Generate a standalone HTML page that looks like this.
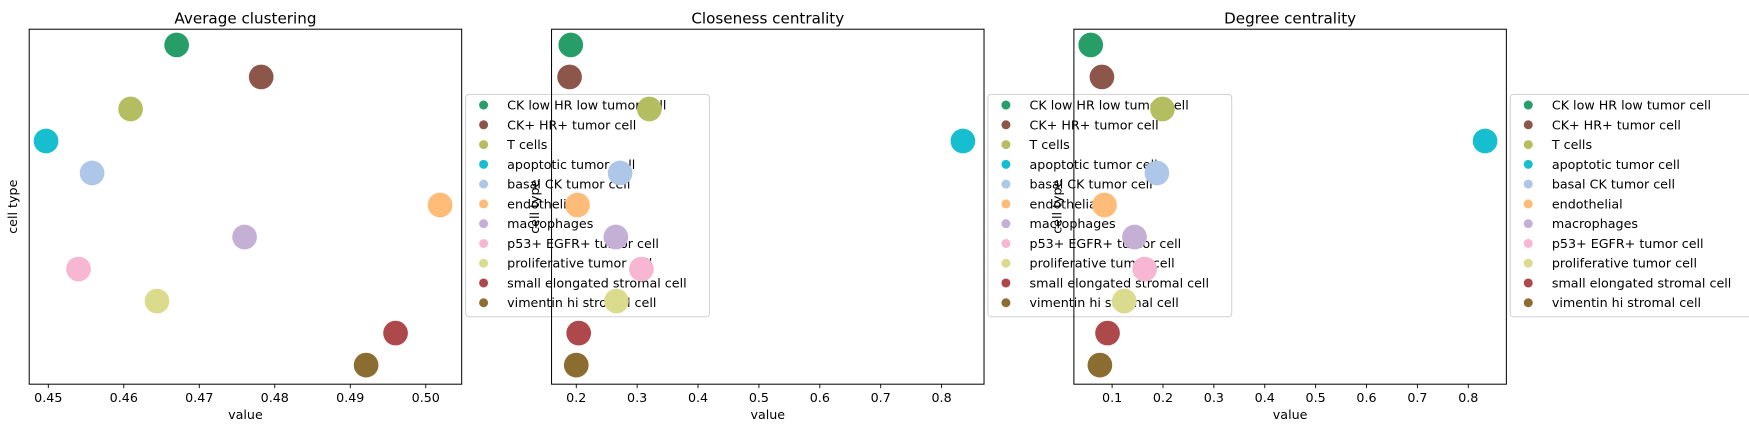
<!DOCTYPE html>
<html><head><meta charset="utf-8">
<style>html,body{margin:0;padding:0;background:#fff;overflow:hidden}svg{display:block}</style>
</head><body>
<svg id="fig" width="1749" height="428" viewBox="0 0 1557 381" preserveAspectRatio="none" xmlns="http://www.w3.org/2000/svg" font-family="'DejaVu Sans','Liberation Sans',sans-serif">
<g id="bg"></g><g id="legends"></g><g id="content"></g>
</svg>
<script>
const categories = ["CK low HR low tumor cell","CK+ HR+ tumor cell","T cells","apoptotic tumor cell","basal CK tumor cell","endothelial","macrophages","p53+ EGFR+ tumor cell","proliferative tumor cell","small elongated stromal cell","vimentin hi stromal cell"];
const colors = ["#279e68","#8c564b","#b5bd61","#17becf","#aec7e8","#ffbb78","#c5b0d5","#f7b6d2","#dbdb8d","#ad494a","#8c6d31"];
const clusteringValues = [0.4670,0.4782,0.4609,0.4497,0.4558,0.5019,0.4760,0.4540,0.4644,0.4960,0.4921];
const closenessValues = [0.191,0.189,0.320,0.835,0.272,0.202,0.265,0.307,0.266,0.204,0.200];
const degreeValues = [0.058,0.080,0.199,0.833,0.188,0.085,0.144,0.164,0.124,0.091,0.076];
const ticks1 = [0.45,0.46,0.47,0.48,0.49,0.50];
const tickLabels1 = ["0.45","0.46","0.47","0.48","0.49","0.50"];
const ticks2 = [0.2,0.3,0.4,0.5,0.6,0.7,0.8];
const tickLabels2 = ["0.2","0.3","0.4","0.5","0.6","0.7","0.8"];
const ticks3 = [0.1,0.2,0.3,0.4,0.5,0.6,0.7,0.8];
const tickLabels3 = ["0.1","0.2","0.3","0.4","0.5","0.6","0.7","0.8"];

const NS="http://www.w3.org/2000/svg";
function mk(parent,tag,attrs,text){const e=document.createElementNS(NS,tag);for(const k in attrs)e.setAttribute(k,attrs[k]);if(text!==undefined)e.textContent=text;parent.appendChild(e);return e;}
const bg=document.getElementById('bg'),lg=document.getElementById('legends'),ct=document.getElementById('content');
const T=26,B=342;
function yPos(i){return 40+i*28.5;}
const panels=[
 {name:"average-clustering",title:"Average clustering",L:26,R:411,d0:0.44747,d1:0.50476,vals:clusteringValues,ticks:ticks1,labels:tickLabels1},
 {name:"closeness-centrality",title:"Closeness centrality",L:491,R:876,d0:0.1594,d1:0.8697,vals:closenessValues,ticks:ticks2,labels:tickLabels2},
 {name:"degree-centrality",title:"Degree centrality",L:956,R:1341,d0:0.0249,d1:0.8748,vals:degreeValues,ticks:ticks3,labels:tickLabels3}
];
panels.forEach(p=>{
 const x=v=>p.L+(v-p.d0)/(p.d1-p.d0)*(p.R-p.L);
 const r=mk(bg,'rect',{x:p.L,y:T,width:p.R-p.L,height:B-T,fill:'#fff'});
 
 
 // legend
 const g=mk(lg,'g',{});
 
 
 const lx=p.R+3.5;
 mk(g,'rect',{x:lx,y:84,width:217,height:198,rx:3,fill:'rgba(255,255,255,0.85)',stroke:'#d0d0d0','stroke-width':0.9});
 categories.forEach((c,i)=>{
  const e=mk(g,'g',{});
  
  
  const ly=93.5+i*17.6;
  mk(e,'circle',{cx:lx+16,cy:ly,r:4,fill:colors[i]});
  mk(e,'text',{x:lx+37,y:ly+4,'font-size':11.3,fill:'#000'},c);
 });
 // content
 const a=mk(ct,'g',{});
 
 
 const t=mk(a,'text',{x:(p.L+p.R)/2,y:21,'text-anchor':'middle','font-size':13.5},p.title);
 
 
 const yl=mk(a,'text',{x:0,y:0,transform:`translate(${p.L-11},184) rotate(-90)`,'text-anchor':'middle','font-size':11.3},'cell type');
 
 
 const xl=mk(a,'text',{x:(p.L+p.R)/2,y:373,'text-anchor':'middle','font-size':11.3},'value');
 
 
 p.ticks.forEach((v,i)=>{
  const tx=x(v);
  mk(a,'line',{x1:tx,x2:tx,y1:B,y2:B+3.5,stroke:'#000','stroke-width':0.8});
  const tl=mk(a,'text',{x:tx,y:B+16,'text-anchor':'middle','font-size':11.3},p.labels[i]);
  
  
 });
 p.vals.forEach((v,i)=>{
  const c=mk(a,'circle',{cx:x(v),cy:yPos(i),r:11,fill:colors[i]});
  
  
 });
 mk(a,'rect',{x:p.L,y:T,width:p.R-p.L,height:B-T,fill:'none',stroke:'#000','stroke-width':0.9});
});
</script>
</body></html>
